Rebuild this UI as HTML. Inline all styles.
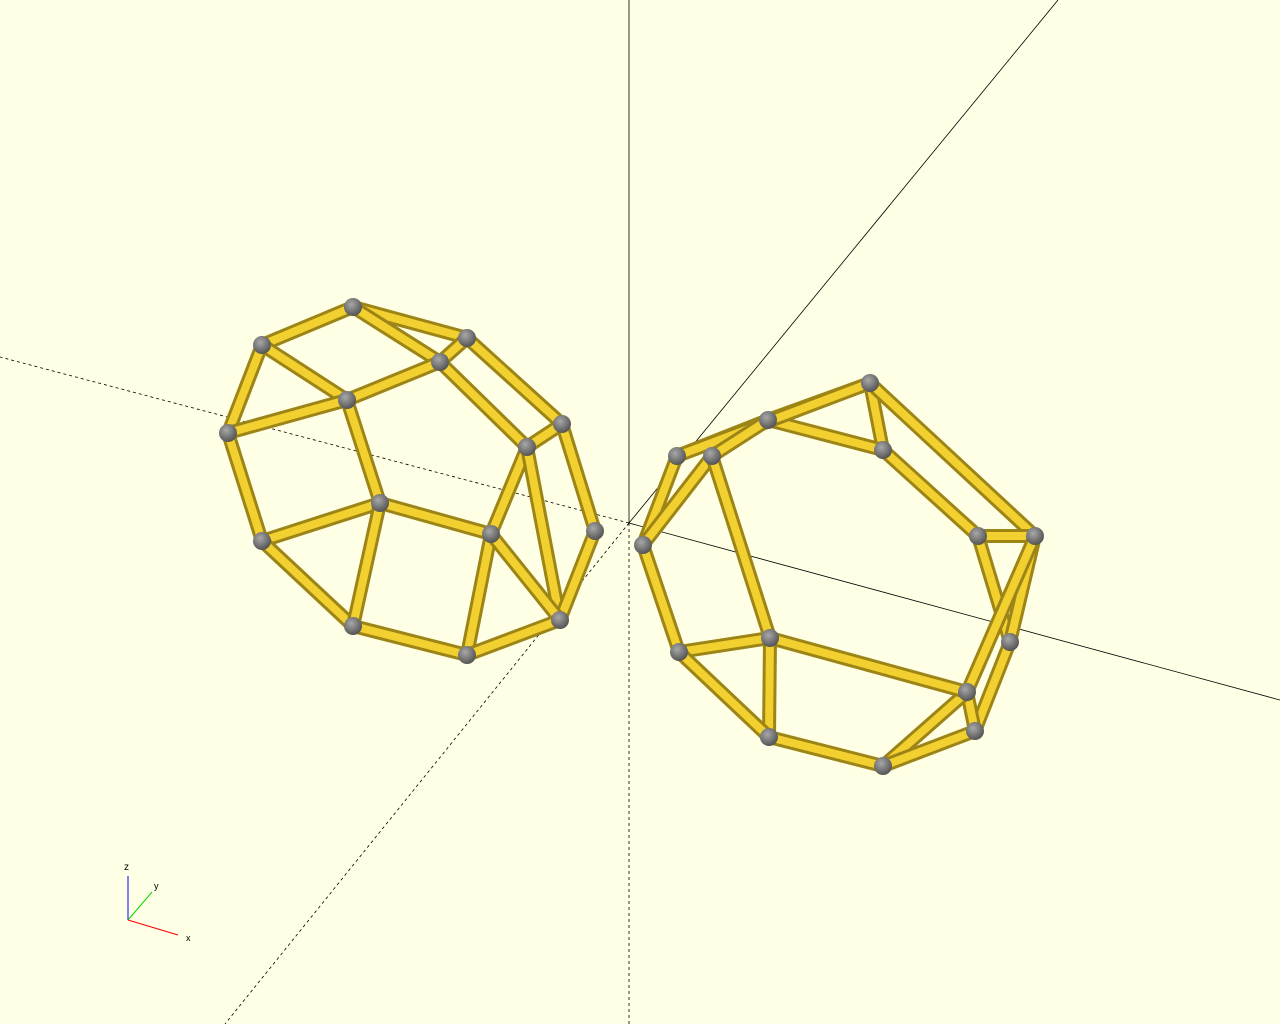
<!DOCTYPE html>
<html><head><meta charset="utf-8"><style>
html,body{margin:0;padding:0;background:#ffffe5;}
svg{display:block;}
</style></head><body>
<svg id="scene" width="1280" height="1024" viewBox="0 0 1280 1024" xmlns="http://www.w3.org/2000/svg">
<defs>
<radialGradient id="ball" cx="40%" cy="35%" r="65%">
<stop offset="0" stop-color="#a8a8a8"/><stop offset="0.6" stop-color="#767676"/><stop offset="1" stop-color="#555"/>
</radialGradient>
</defs>
<rect width="1280" height="1024" fill="#ffffe5"/>
<g stroke="#000" stroke-width="0.8" fill="none">
<line x1="629" y1="0" x2="629" y2="523"/>
<line x1="629" y1="523" x2="629" y2="1024" stroke-dasharray="3,3"/>
<line x1="629" y1="523" x2="1280" y2="700"/>
<line x1="629" y1="523" x2="0" y2="357" stroke-dasharray="3,3"/>
<line x1="629" y1="523" x2="1058" y2="0"/>
<line x1="629" y1="523" x2="225" y2="1024" stroke-dasharray="3,3"/>
</g>
<g id="shapes"></g>
<g font-family="Liberation Sans, sans-serif" font-size="10">
<line x1="128" y1="920" x2="128" y2="876" stroke="#0000ff" stroke-width="1"/>
<line x1="128" y1="920" x2="152" y2="892" stroke="#00dd00" stroke-width="1"/>
<line x1="128" y1="920" x2="178" y2="935" stroke="#ff0000" stroke-width="1"/>
<text x="124" y="870">z</text>
<text x="154" y="889" font-size="9">y</text>
<text x="186" y="941" font-size="9">x</text>
</g>
</svg>
<script>
const leftVertices = [[353,307],[262,345],[467,338],[440,362],[347,400],[228,433],[562,424],[527,447],[380,503],[262,541],[491,534],[595,531],[353,626],[467,655],[560,620]];
const leftEdges = [[0,1],[0,2],[0,3],[1,4],[1,5],[5,4],[4,3],[2,3],[2,6],[3,7],[6,7],[6,11],[7,10],[7,14],[11,14],[5,9],[4,8],[8,9],[8,10],[9,12],[8,12],[10,13],[10,14],[12,13],[13,14]];
const rightVertices = [[870,383],[768,420],[883,450],[677,456],[712,456],[643,545],[978,536],[1035,536],[770,638],[679,652],[1010,642],[967,692],[975,731],[769,737],[883,766]];
const rightEdges = [[0,1],[0,2],[0,7],[1,2],[1,3],[3,0],[4,1],[3,5],[4,5],[4,8],[2,6],[6,7],[6,10],[7,10],[7,11],[10,12],[12,11],[11,14],[12,14],[8,11],[8,9],[8,13],[5,9],[9,13],[13,14]];
const shapes = [[leftVertices, leftEdges, 'left-polyhedron'], [rightVertices, rightEdges, 'right-polyhedron']];
const NS = 'http://www.w3.org/2000/svg';
const root = document.getElementById('shapes');
shapes.forEach(([verts, edges, name]) => {
  const g = document.createElementNS(NS, 'g');
  
  
  root.appendChild(g);
  edges.forEach(([a, b], i) => {
    const p = verts[a], q = verts[b];
    const outer = document.createElementNS(NS, 'line');
    outer.setAttribute('x1', p[0]); outer.setAttribute('y1', p[1]);
    outer.setAttribute('x2', q[0]); outer.setAttribute('y2', q[1]);
    outer.setAttribute('stroke', '#9c8416'); outer.setAttribute('stroke-width', '14');
    
    
    g.appendChild(outer);
    const inner = document.createElementNS(NS, 'line');
    inner.setAttribute('x1', p[0]); inner.setAttribute('y1', p[1]);
    inner.setAttribute('x2', q[0]); inner.setAttribute('y2', q[1]);
    inner.setAttribute('stroke', '#f2d030'); inner.setAttribute('stroke-width', '8');
    
    
    g.appendChild(inner);
  });
  verts.forEach((v, i) => {
    const c = document.createElementNS(NS, 'circle');
    c.setAttribute('cx', v[0]); c.setAttribute('cy', v[1]); c.setAttribute('r', '9');
    c.setAttribute('fill', 'url(#ball)');
    
    
    g.appendChild(c);
  });
});
</script>
</body></html>
